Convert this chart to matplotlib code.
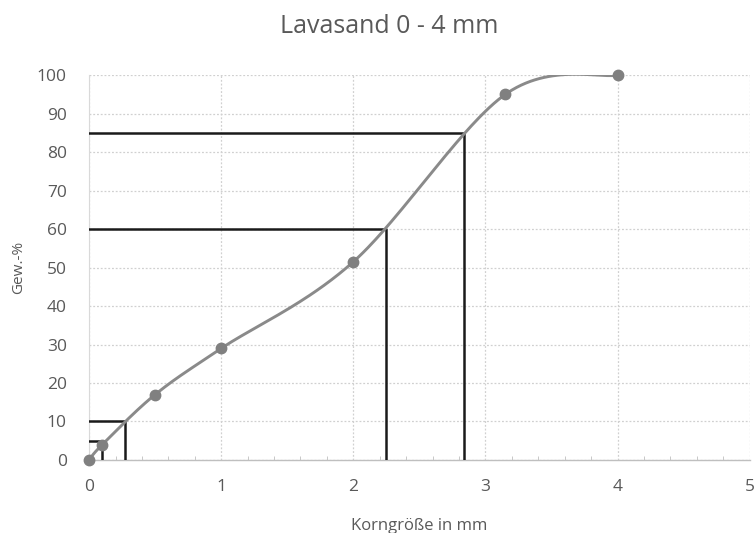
import numpy as np
import matplotlib
matplotlib.use("Agg")
import matplotlib.pyplot as plt
from matplotlib.ticker import MultipleLocator

# Sieve analysis: grain size (mm) vs. cumulative passing (weight-%)
korngroesse = [0, 0.1, 0.5, 1, 2, 3.15, 4]
durchgang = [0, 4, 17, 29, 51.5, 95, 100]

# Characteristic grain sizes d5, d10, d60, d85
d_prozent = [5, 10, 60, 85]
d_werte = [0.1, 0.27, 2.25, 2.84]

title = "Lavasand 0 - 4 mm"
xlabel = "Korngröße in mm"
ylabel = "Gew.-%"

plt.rcParams["font.family"] = ["Open Sans", "DejaVu Sans"]
TXT = "#595959"


def smooth_curve(x, y, n=60):
    """Bezier smoothing through all points (cardinal spline, tension 1/6)."""
    p = np.column_stack([x, y]).astype(float)
    ext = np.vstack([p[0], p, p[-1]])
    out = []
    t = np.linspace(0, 1, n)[:, None]
    for i in range(len(p) - 1):
        p0, p1 = ext[i + 1], ext[i + 2]
        c1 = p0 + (ext[i + 2] - ext[i]) / 6.0
        c2 = p1 - (ext[i + 3] - ext[i + 1]) / 6.0
        seg = ((1 - t) ** 3) * p0 + 3 * ((1 - t) ** 2) * t * c1 \
            + 3 * (1 - t) * t ** 2 * c2 + t ** 3 * p1
        out.append(seg if i == 0 else seg[1:])
    s = np.vstack(out)
    return s[:, 0], s[:, 1]


fig = plt.figure(figsize=(7.55, 5.33), dpi=100)
ax = fig.add_axes([0.118, 0.137, 0.875, 0.722])

ax.set_xlim(0, 5)
ax.set_ylim(0, 100)
ax.xaxis.set_major_locator(MultipleLocator(1))
ax.xaxis.set_minor_locator(MultipleLocator(0.2))
ax.yaxis.set_major_locator(MultipleLocator(10))

ax.grid(True, which="major", color="#d0d0d0", linestyle=(0, (1.5, 1.5)), linewidth=0.9)
ax.set_axisbelow(True)

for side in ("top", "right"):
    ax.spines[side].set_visible(False)
ax.spines["left"].set_color("#d9d9d9")
ax.spines["bottom"].set_color("#bfbfbf")
ax.spines["bottom"].set_linewidth(1.0)

ax.tick_params(axis="both", which="major", length=0, labelsize=12.5, colors=TXT)
ax.tick_params(axis="x", which="major", pad=14)
ax.tick_params(axis="y", which="major", pad=16)
ax.tick_params(axis="x", which="minor", direction="in", length=3, color="#bfbfbf")

# d-value guide lines
for p, d in zip(d_prozent, d_werte):
    ax.plot([0, d, d], [p, p, 0], color="#1a1a1a", linewidth=1.8, zorder=3)

# smoothed grading curve with measured points
sx, sy = smooth_curve(korngroesse, durchgang)
ax.plot(sx, sy, color="#8a8a8a", linewidth=2.1, zorder=4, solid_capstyle="round")
ax.plot(korngroesse, durchgang, "o", color="#808080", markersize=7.5, zorder=5, clip_on=False)

fig.text(0.516, 0.951, title, ha="center", va="center", fontsize=18, color=TXT)
ax.set_xlabel(xlabel, fontsize=12, color=TXT, labelpad=16)
ax.set_ylabel(ylabel, fontsize=11, color=TXT, labelpad=8)

fig.savefig("out.png", dpi=100)
